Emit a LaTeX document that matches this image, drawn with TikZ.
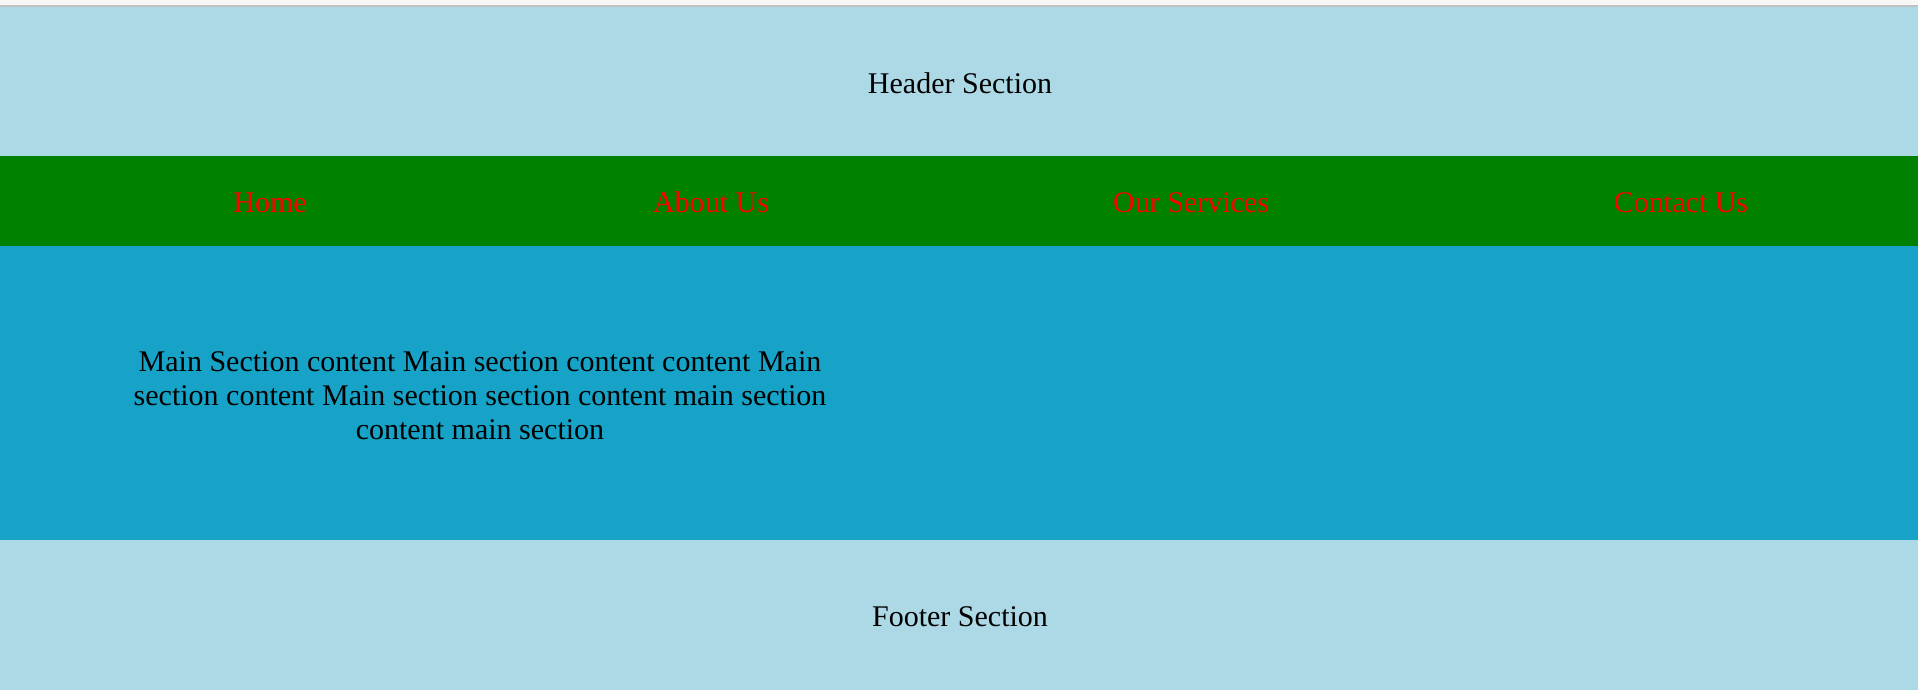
\documentclass[tikz,border=0pt]{standalone}
\usepackage{fontspec}
\setmainfont{Liberation Serif}
\usepackage{xcolor}
\definecolor{headerblue}{HTML}{ADD8E6}
\definecolor{navgreen}{HTML}{008000}
\definecolor{mainblue}{HTML}{17A3C7}
\definecolor{topstrip}{HTML}{F7F7F7}
\definecolor{topline}{HTML}{BFC2C2}

\begin{document}
\begin{tikzpicture}[
	pagetext/.style={font=\fontsize{8.54pt}{9.67pt}\selectfont,inner sep=0pt,anchor=base},
	navlink/.style={pagetext,text=red}]
	% browser edge
	\fill[topstrip] (0,6.85) rectangle (19.18,6.90);
	\fill[topline] (0,6.83) rectangle (19.18,6.85);
	% sections
	\fill[headerblue] (0,5.34) rectangle (19.18,6.83);
	\fill[navgreen] (0,4.44) rectangle (19.18,5.34);
	\fill[mainblue] (0,1.50) rectangle (19.18,4.44);
	\fill[headerblue] (0,0) rectangle (19.18,1.50);

	\node[pagetext] (header) at (9.60,5.965) {Header Section};

	\node[navlink] (home) at (2.70,4.775) {Home};
	\node[navlink] (about) at (7.11,4.775) {About Us};
	\node[navlink] (services) at (11.91,4.775) {Our Services};
	\node[navlink] (contact) at (16.81,4.775) {Contact Us};

	\node[pagetext,anchor=center,align=center] (maintext) at (4.80,2.945)
		{Main Section content Main section content content Main\\
		section content Main section section content main section\\
		content main section};

	\node[pagetext] (footer) at (9.60,0.64) {Footer Section};
\end{tikzpicture}
\end{document}
